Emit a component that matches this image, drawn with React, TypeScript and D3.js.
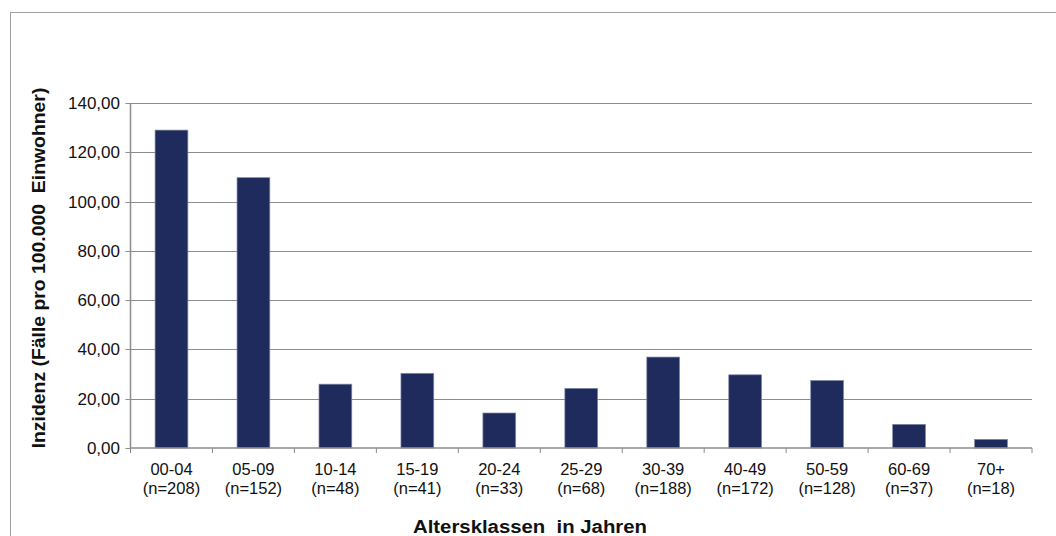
import React from "react";
import * as d3 from "d3";

const categories = ["00-04", "05-09", "10-14", "15-19", "20-24", "25-29", "30-39", "40-49", "50-59", "60-69", "70+"];
const counts = ["(n=208)", "(n=152)", "(n=48)", "(n=41)", "(n=33)", "(n=68)", "(n=188)", "(n=172)", "(n=128)", "(n=37)", "(n=18)"];
const values = [129.0, 109.7, 25.9, 30.3, 14.2, 24.2, 36.9, 29.7, 27.4, 9.6, 3.5];
const yTicks = [0, 20, 40, 60, 80, 100, 120, 140];

const W = 1056, H = 536;
const left = 130.5, right = 1032, top = 103, bottom = 448;

export default function App() {
  const x = d3.scaleBand<string>().domain(categories).range([left, right]).paddingInner(0.6).paddingOuter(0.3);
  const xb = d3.scaleBand<string>().domain(categories).range([left, right]);
  const y = d3.scaleLinear().domain([0, 140]).range([bottom, top]);
  const fmt = (v: number) => v.toFixed(2).replace(".", ",");
  const font = "'Liberation Sans', Arial, sans-serif";
  return (
    <svg width={W} height={H} style={{ position: "absolute", left: 0, top: 0, display: "block" }} fontFamily={font}>
      <rect x={0} y={0} width={W} height={H} fill="#fff" />
      <rect x={10.5} y={12.5} width={W + 20} height={H + 20} fill="none" stroke="#a0a0a0" strokeWidth={1} />
      {yTicks.map((t) => (
        <g key={t}>
          {t > 0 && <line x1={left} x2={right} y1={Math.round(y(t)) + 0.5} y2={Math.round(y(t)) + 0.5} stroke="#8c8c8c" strokeWidth={1} />}
          <line x1={left - 5} x2={left} y1={Math.round(y(t)) + 0.5} y2={Math.round(y(t)) + 0.5} stroke="#8c8c8c" />
          <text x={120} y={y(t)} dy="0.35em" textAnchor="end" fontSize={17} fill="#111">{fmt(t)}</text>
        </g>
      ))}
      {categories.map((c, i) => (
        <rect key={c} x={x(c)} y={y(values[i])} width={x.bandwidth()} height={bottom - y(values[i])} fill="#1f2b5c" stroke="#7f88a8" strokeWidth={0.7} />
      ))}
      <line x1={left} x2={left} y1={top} y2={bottom} stroke="#8c8c8c" strokeWidth={1.5} />
      <line x1={left} x2={right} y1={bottom} y2={bottom} stroke="#8c8c8c" strokeWidth={1.5} />
      {[...categories.map((c) => xb(c) as number), right].map((px, i) => (
        <line key={i} x1={px} x2={px} y1={bottom} y2={bottom + 5} stroke="#8c8c8c" />
      ))}
      {categories.map((c, i) => {
        const cx = (xb(c) as number) + xb.bandwidth() / 2;
        return (
          <text key={c} x={cx} textAnchor="middle" fontSize={16.5} fill="#111">
            <tspan x={cx} y={475}>{c}</tspan>
            <tspan x={cx} y={494}>{counts[i]}</tspan>
          </text>
        );
      })}
      <text x={530} y={533} textAnchor="middle" fontSize={18.5} fontWeight="bold" fill="#111" transform="translate(530,0) scale(1.1,1) translate(-530,0)" style={{ whiteSpace: "pre" }}>{"Altersklassen  in Jahren"}</text>
      <text transform="translate(45,268) rotate(-90) scale(1.02,1)" textAnchor="middle" fontSize={19} fontWeight="bold" fill="#111" style={{ whiteSpace: "pre" }}>{"Inzidenz (Fälle pro 100.000  Einwohner)"}</text>
    </svg>
  );
}
